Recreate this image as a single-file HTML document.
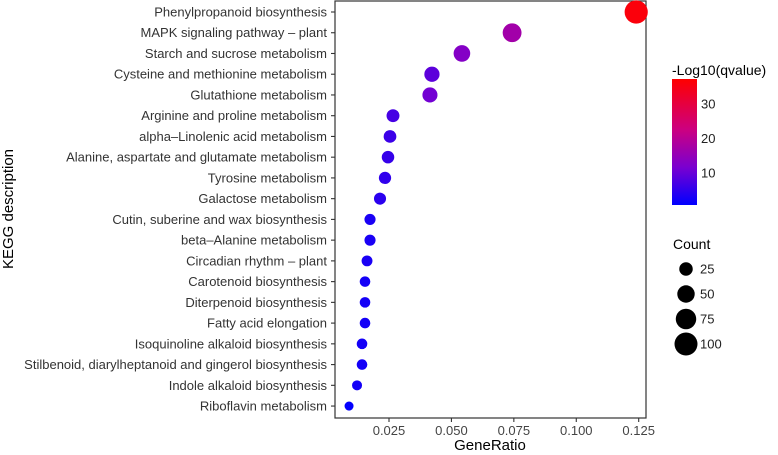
<!DOCTYPE html>
<html><head><meta charset="utf-8"><style>
body{margin:0;background:#fff;}
svg{display:block;font-family:"Liberation Sans",sans-serif;}
</style></head><body>
<svg id="chart" width="778" height="455">
<defs><linearGradient id="cg" x1="0" y1="1" x2="0" y2="0">
<stop offset="0" stop-color="#0000ff"/><stop offset="0.3" stop-color="#7a00d0"/><stop offset="0.6" stop-color="#cc0080"/><stop offset="1" stop-color="#ff0000"/>
</linearGradient></defs>
<rect x="335" y="1" width="311" height="417" fill="#fff" stroke="#333" stroke-width="1.2"/>
<g id="marks"></g>
<text x="490" y="450" font-size="15" text-anchor="middle">GeneRatio</text>
<text transform="translate(13,209) rotate(-90)" font-size="15" text-anchor="middle">KEGG description</text>
<text x="672" y="75" font-size="14">-Log10(qvalue)</text>
<rect x="672" y="79" width="25" height="126" fill="url(#cg)"/>
<text x="673" y="249" font-size="14">Count</text>
</svg>
<script>
const categories=["Phenylpropanoid biosynthesis","MAPK signaling pathway \u2013 plant","Starch and sucrose metabolism","Cysteine and methionine metabolism","Glutathione metabolism","Arginine and proline metabolism","alpha\u2013Linolenic acid metabolism","Alanine, aspartate and glutamate metabolism","Tyrosine metabolism","Galactose metabolism","Cutin, suberine and wax biosynthesis","beta\u2013Alanine metabolism","Circadian rhythm \u2013 plant","Carotenoid biosynthesis","Diterpenoid biosynthesis","Fatty acid elongation","Isoquinoline alkaloid biosynthesis","Stilbenoid, diarylheptanoid and gingerol biosynthesis","Indole alkaloid biosynthesis","Riboflavin metabolism"];
const geneRatio=[0.124,0.0743,0.0542,0.0422,0.0414,0.0266,0.0254,0.0246,0.0234,0.0214,0.0174,0.0174,0.0162,0.0154,0.0154,0.0154,0.0142,0.0142,0.0122,0.009];
const counts=[102,61,44,35,34,22,21,20,19,18,14,14,13,12,12,12,12,12,10,7];
const qvals=[36,17,13,9,11,7,6,5.5,5,4.5,3,3,3,2.5,2.5,2.5,2.5,2.5,2.5,1];
const xTicks=[0.025,0.05,0.075,0.1,0.125];
const xTickLabels=["0.025","0.050","0.075","0.100","0.125"];
const colorTicks=[10,20,30];
const sizeLegend=[25,50,75,100];

const NS="http://www.w3.org/2000/svg";
const g=document.getElementById('marks');
const xs=v=>389+(v-0.025)*2497;
const ys=i=>12+i*20.74;
const rs=c=>2+Math.sqrt(c)*0.95;
const cy=v=>207.5-v*3.45;
const stops=[[0,[0,0,255]],[0.3,[122,0,208]],[0.6,[204,0,128]],[1,[255,0,0]]];
const qmin=0.7,qmax=37.2;
function col(q){let t=Math.max(0,Math.min(1,(q-qmin)/(qmax-qmin)));
for(let k=1;k<stops.length;k++){if(t<=stops[k][0]){const a=stops[k-1],b=stops[k];const u=(t-a[0])/(b[0]-a[0]);
return 'rgb('+a[1].map((c,j)=>Math.round(c+(b[1][j]-c)*u)).join(',')+')';}}return 'rgb(255,0,0)';}
function mk(tag,attrs){const e=document.createElementNS(NS,tag);for(const k in attrs)e.setAttribute(k,attrs[k]);g.appendChild(e);return e;}

categories.forEach((c,i)=>{
  const y=ys(i);
  const t=mk('line',{x1:331,x2:335,y1:y,y2:y,stroke:'#333','stroke-width':1.1});
  
  
  const l=mk('text',{x:327,y:y+4.5,'font-size':13,'text-anchor':'end',fill:'#333'});
  l.textContent=c;
  
  
  const p=mk('circle',{cx:xs(geneRatio[i]),cy:y,r:rs(counts[i]),fill:col(qvals[i])});
  
  
});
xTicks.forEach((v,i)=>{
  const x=xs(v);
  const t=mk('line',{x1:x,x2:x,y1:418,y2:422,stroke:'#333','stroke-width':1.1});
  
  
  const l=mk('text',{x:x,y:435,'font-size':13,'text-anchor':'middle',fill:'#444'});
  l.textContent=xTickLabels[i];
  
  
});
colorTicks.forEach(v=>{
  const y=cy(v);
  mk('line',{x1:672,x2:677,y1:y,y2:y,stroke:'#fff','stroke-width':1,opacity:0.7});
  mk('line',{x1:692,x2:697,y1:y,y2:y,stroke:'#fff','stroke-width':1,opacity:0.7});
  const l=mk('text',{x:701,y:y+4.5,'font-size':13,fill:'#222'});
  l.textContent=v;
  
  
});
sizeLegend.forEach((c,i)=>{
  const y=269+i*25;
  const p=mk('circle',{cx:686,cy:y,r:rs(c),fill:'#000'});
  
  
  const l=mk('text',{x:700,y:y+4.5,'font-size':13,fill:'#222'});
  l.textContent=c;
  
  
});
</script>
</body></html>
